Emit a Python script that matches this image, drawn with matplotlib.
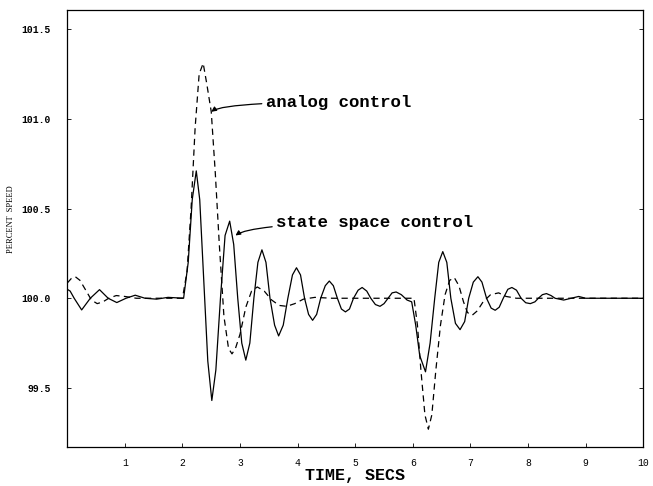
import numpy as np
import matplotlib
matplotlib.use('Agg')
import matplotlib.pyplot as plt

# state space control (solid)
t_state = [0.0, 0.05, 0.12, 0.25, 0.40, 0.56, 0.71, 0.86, 1.02, 1.18, 1.35, 1.55, 1.75, 2.02,
           2.10, 2.17, 2.24, 2.30, 2.37, 2.44, 2.51, 2.58, 2.66, 2.74, 2.82, 2.89, 2.96,
           3.03, 3.10, 3.17, 3.24, 3.31, 3.38, 3.45, 3.52, 3.60, 3.67, 3.75, 3.83, 3.91,
           3.98, 4.05, 4.12, 4.19, 4.26, 4.33, 4.40, 4.48, 4.55, 4.62, 4.69, 4.76, 4.83,
           4.90, 4.97, 5.05, 5.12, 5.20, 5.27, 5.35, 5.43, 5.50, 5.57, 5.64, 5.71, 5.80,
           5.90, 5.98, 6.05, 6.12, 6.22, 6.30, 6.38, 6.45, 6.52, 6.59, 6.66, 6.74, 6.82,
           6.90, 6.97, 7.05, 7.13, 7.20, 7.28, 7.36, 7.43, 7.50, 7.57, 7.65, 7.72, 7.80,
           7.88, 7.96, 8.04, 8.12, 8.18, 8.25, 8.32, 8.40, 8.47, 8.62, 8.75, 8.88, 9.0, 10.0]
v_state = [100.05, 100.04, 100.0, 99.935, 100.0, 100.048, 100.0, 99.976, 100.0, 100.017, 100.0,
           99.995, 100.005, 100.0,
           100.2, 100.55, 100.71, 100.55, 100.1, 99.65, 99.43, 99.6, 100.0, 100.35, 100.43,
           100.3, 100.0, 99.75, 99.655, 99.75, 100.0, 100.2, 100.27, 100.2, 100.0, 99.85,
           99.79, 99.85, 100.0, 100.13, 100.17, 100.13, 100.0, 99.91, 99.877, 99.91, 100.0,
           100.07, 100.096, 100.07, 100.0, 99.94, 99.924, 99.94, 100.0, 100.045, 100.06,
           100.04, 100.0, 99.965, 99.955, 99.97, 100.0, 100.03, 100.035, 100.02, 99.99,
           99.98, 99.85, 99.68, 99.59, 99.75, 100.0, 100.2, 100.26, 100.2, 100.0, 99.86,
           99.825, 99.87, 100.0, 100.09, 100.12, 100.09, 100.0, 99.945, 99.933, 99.95,
           100.0, 100.05, 100.06, 100.045, 100.0, 99.975, 99.97, 99.98, 100.0, 100.02,
           100.026, 100.015, 100.0, 99.99, 100.0, 100.01, 100.0, 100.0]

# analog control (dashed)
t_analog = [0.0, 0.07, 0.14, 0.22, 0.33, 0.42, 0.52, 0.62, 0.72, 0.85, 1.0, 1.2, 2.0,
            2.08, 2.15, 2.22, 2.29, 2.36, 2.42, 2.50, 2.57, 2.64, 2.72, 2.80, 2.86, 2.92,
            3.00, 3.10, 3.20, 3.30, 3.42, 3.55, 3.68, 3.81, 3.95, 4.1, 4.3, 4.6, 6.02,
            6.08, 6.14, 6.21, 6.27, 6.33, 6.40, 6.48, 6.56, 6.64, 6.72, 6.80, 6.88, 6.95,
            7.03, 7.12, 7.22, 7.35, 7.49, 7.62, 7.8, 10.0]
v_analog = [100.085, 100.11, 100.12, 100.1, 100.04, 99.99, 99.97, 99.98, 100.0, 100.015,
            100.01, 100.0, 100.0,
            100.15, 100.5, 100.95, 101.25, 101.31, 101.2, 101.04, 100.7, 100.3, 99.9, 99.72,
            99.69, 99.72, 99.8, 99.95, 100.04, 100.063, 100.04, 99.99, 99.96, 99.955, 99.97,
            99.995, 100.005, 100.0, 100.0,
            99.85, 99.6, 99.35, 99.27, 99.35, 99.6, 99.85, 100.02, 100.1, 100.115, 100.07,
            99.98, 99.92, 99.905, 99.93, 99.98, 100.02, 100.03, 100.01, 100.0, 100.0]

x_ticks = [1, 2, 3, 4, 5, 6, 7, 8, 9, 10]
y_ticks = [99.5, 100.0, 100.5, 101.0, 101.5]

mono = 'Liberation Mono'

fig = plt.figure(figsize=(6.53, 4.86), dpi=100)
ax = fig.add_axes([0.103, 0.080, 0.882, 0.899])

ax.plot(t_state, v_state, color='black', lw=0.9)
ax.plot(t_analog, v_analog, color='black', lw=0.9, dashes=(5, 3.5))

ax.set_xlim(0, 10)
ax.set_ylim(99.17, 101.606)
ax.set_xticks(x_ticks)
ax.set_xticklabels([str(v) for v in x_ticks], family=mono, fontsize=7)
ax.set_yticks(y_ticks)
ax.set_yticklabels(['%.1f' % v for v in y_ticks], family=mono, fontsize=7, fontweight='bold')
ax.tick_params(axis='x', direction='in', length=3, width=0.6, pad=8, top=False)
ax.tick_params(axis='y', direction='in', length=3, width=0.6, pad=12, right=True)
for s in ax.spines.values():
    s.set_linewidth(0.9)

ax.set_xlabel('TIME, SECS', family=mono, fontsize=12, fontweight='bold', labelpad=0)
fig.text(0.017, 0.55, 'PERCENT  SPEED', rotation=90, family='Liberation Serif',
         fontsize=6, ha='center', va='center')

arrow = dict(arrowstyle='-|>', color='black', lw=0.9, mutation_scale=7,
             shrinkA=1, shrinkB=0, connectionstyle='angle3,angleA=0,angleB=35')
ax.annotate('analog control', xy=(2.5, 101.04), xytext=(3.45, 101.094),
            family=mono, fontsize=12.5, fontweight='bold', ha='left', va='center',
            arrowprops=arrow)
ax.annotate('state space control', xy=(2.92, 100.35), xytext=(3.63, 100.42),
            family=mono, fontsize=12.5, fontweight='bold', ha='left', va='center',
            arrowprops=arrow)

fig.savefig('out.png', dpi=100)
